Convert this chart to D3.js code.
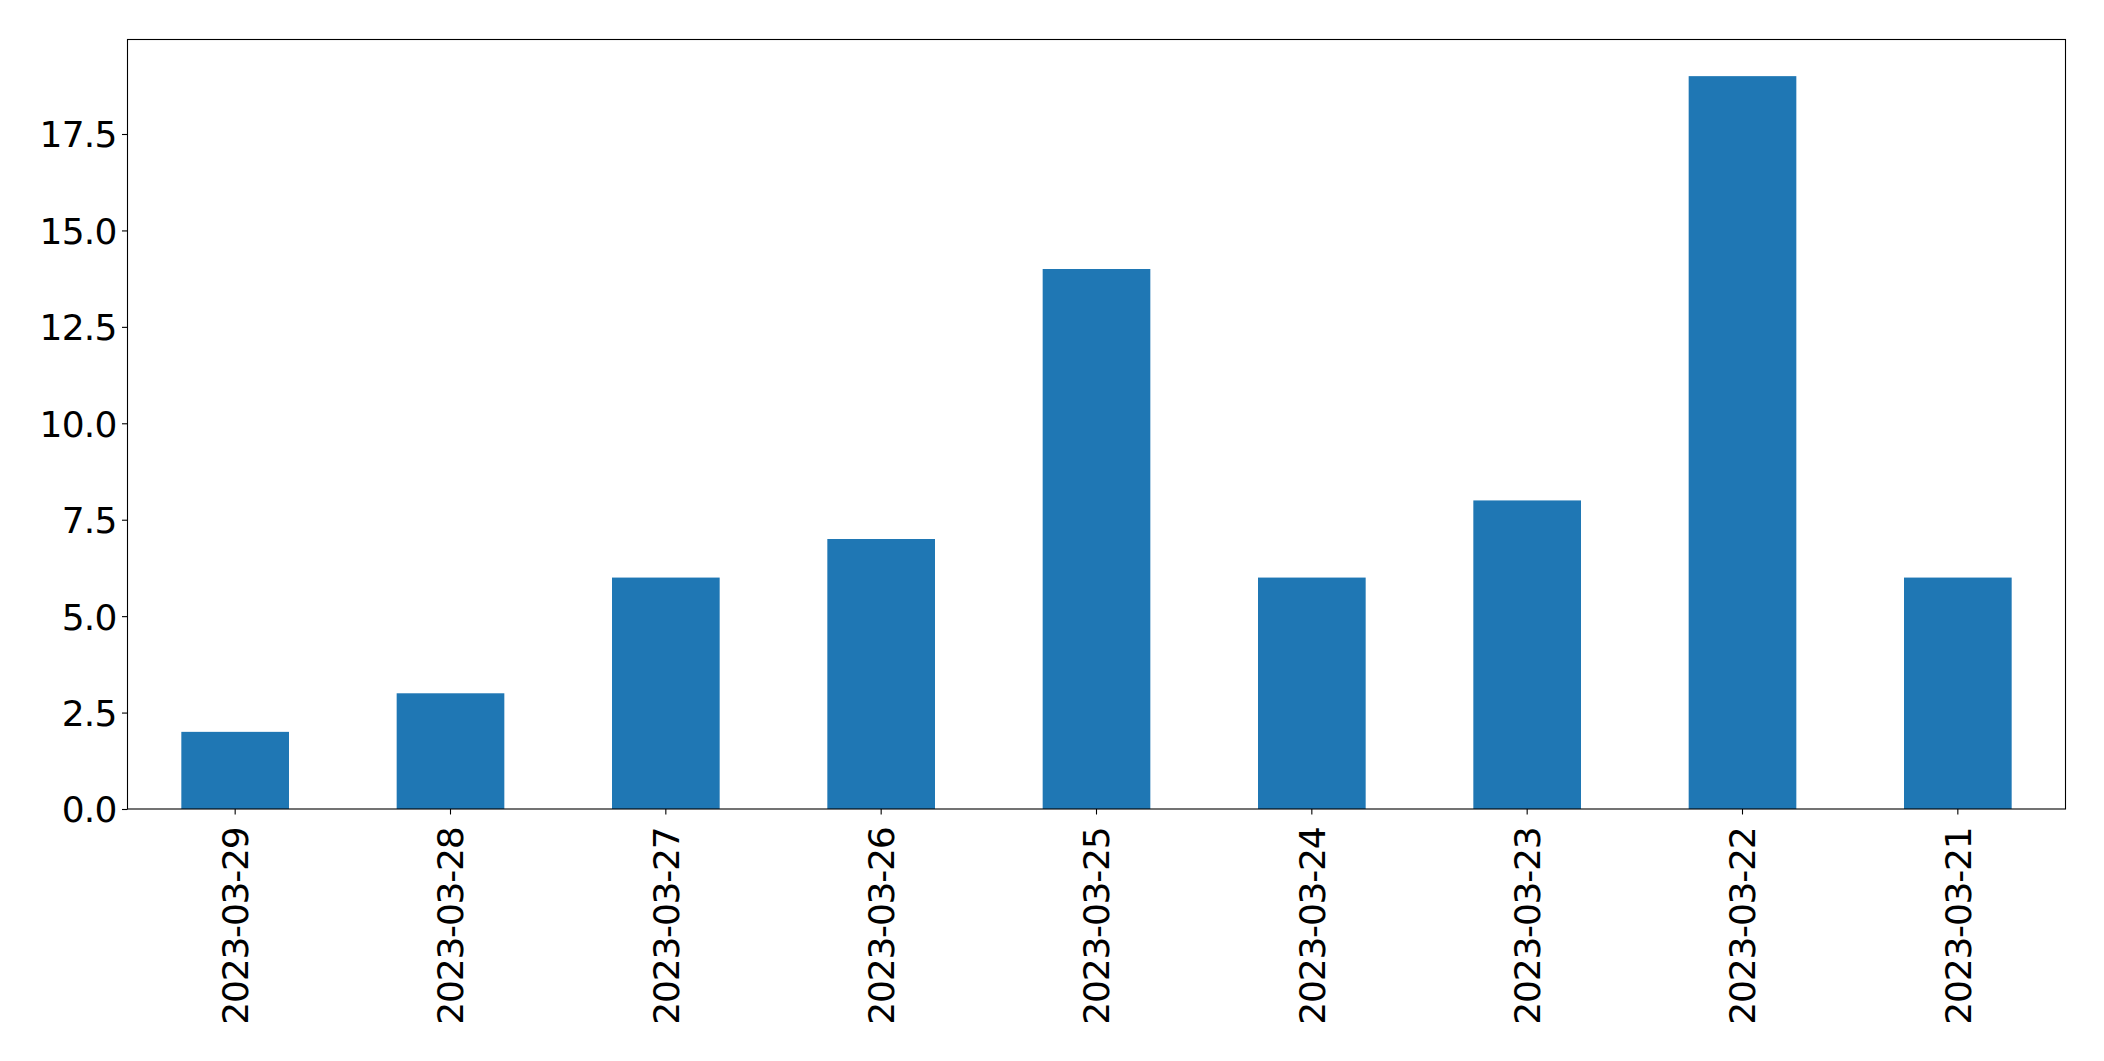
<!DOCTYPE html>
<html>
<head>
<meta charset="utf-8">
<script src="https://cdn.jsdelivr.net/npm/d3@7"></script>
<style>
html,body{margin:0;padding:0;background:#fff;}
text{font-family:"DejaVu Sans",sans-serif;}
</style>
</head>
<body>
<svg id="chart" width="2104" height="1061"></svg>
<script>
const categories = ["2023-03-29","2023-03-28","2023-03-27","2023-03-26","2023-03-25","2023-03-24","2023-03-23","2023-03-22","2023-03-21"];
const values = [2,3,6,7,14,6,8,19,6];
const yTicks = [0,2.5,5,7.5,10,12.5,15,17.5];

const W = 2104, H = 1061;
const m = {left:127.5, top:39.5, right:W-2065.5, bottom:H-809};
const svg = d3.select("#chart");
const g = svg.append("g");

const x = d3.scaleBand().domain(categories).range([m.left, W-m.right]).paddingInner(0.5).paddingOuter(0.25);
const y = d3.scaleLinear().domain([0, d3.max(values)*1.05]).range([H-m.bottom, m.top]);

g.selectAll("rect.bar").data(values).enter().append("rect")
  .attr("class","bar")
  .attr("x",(d,i)=>x(categories[i]))
  .attr("width",x.bandwidth())
  .attr("y",d=>y(d))
  .attr("height",d=>y(0)-y(d))
  .attr("fill","#1f77b4");

const fs = 36;
const yAxis = d3.axisLeft(y).tickValues(yTicks).tickFormat(d3.format(".1f")).tickSize(5.5).tickPadding(5.5);
const ya = g.append("g").attr("transform",`translate(${m.left},0)`).call(yAxis);
ya.select(".domain").remove();
ya.selectAll("text").attr("font-size",fs).attr("fill","#000").attr("font-family","DejaVu Sans")
  .attr("letter-spacing",-0.8).attr("dy","0.36em");
ya.selectAll("line").attr("stroke","#000").attr("stroke-width",1.1);

const xAxis = d3.axisBottom(x).tickSize(5.5).tickPadding(7);
const xa = g.append("g").attr("transform",`translate(0,${H-m.bottom})`).call(xAxis);
xa.select(".domain").remove();
xa.selectAll("line").attr("stroke","#000").attr("stroke-width",1.1);
xa.selectAll("text")
  .attr("font-size",fs).attr("fill","#000").attr("font-family","DejaVu Sans")
  .attr("letter-spacing",-1.2)
  .attr("transform","rotate(-90)")
  .attr("text-anchor","end")
  .attr("x",-(5.5+13)).attr("y",0).attr("dy","0.36em");

g.append("rect")
  .attr("x",m.left).attr("y",m.top)
  .attr("width",W-m.right-m.left).attr("height",H-m.bottom-m.top)
  .attr("fill","none").attr("stroke","#000").attr("stroke-width",1.1);
</script>
</body>
</html>
